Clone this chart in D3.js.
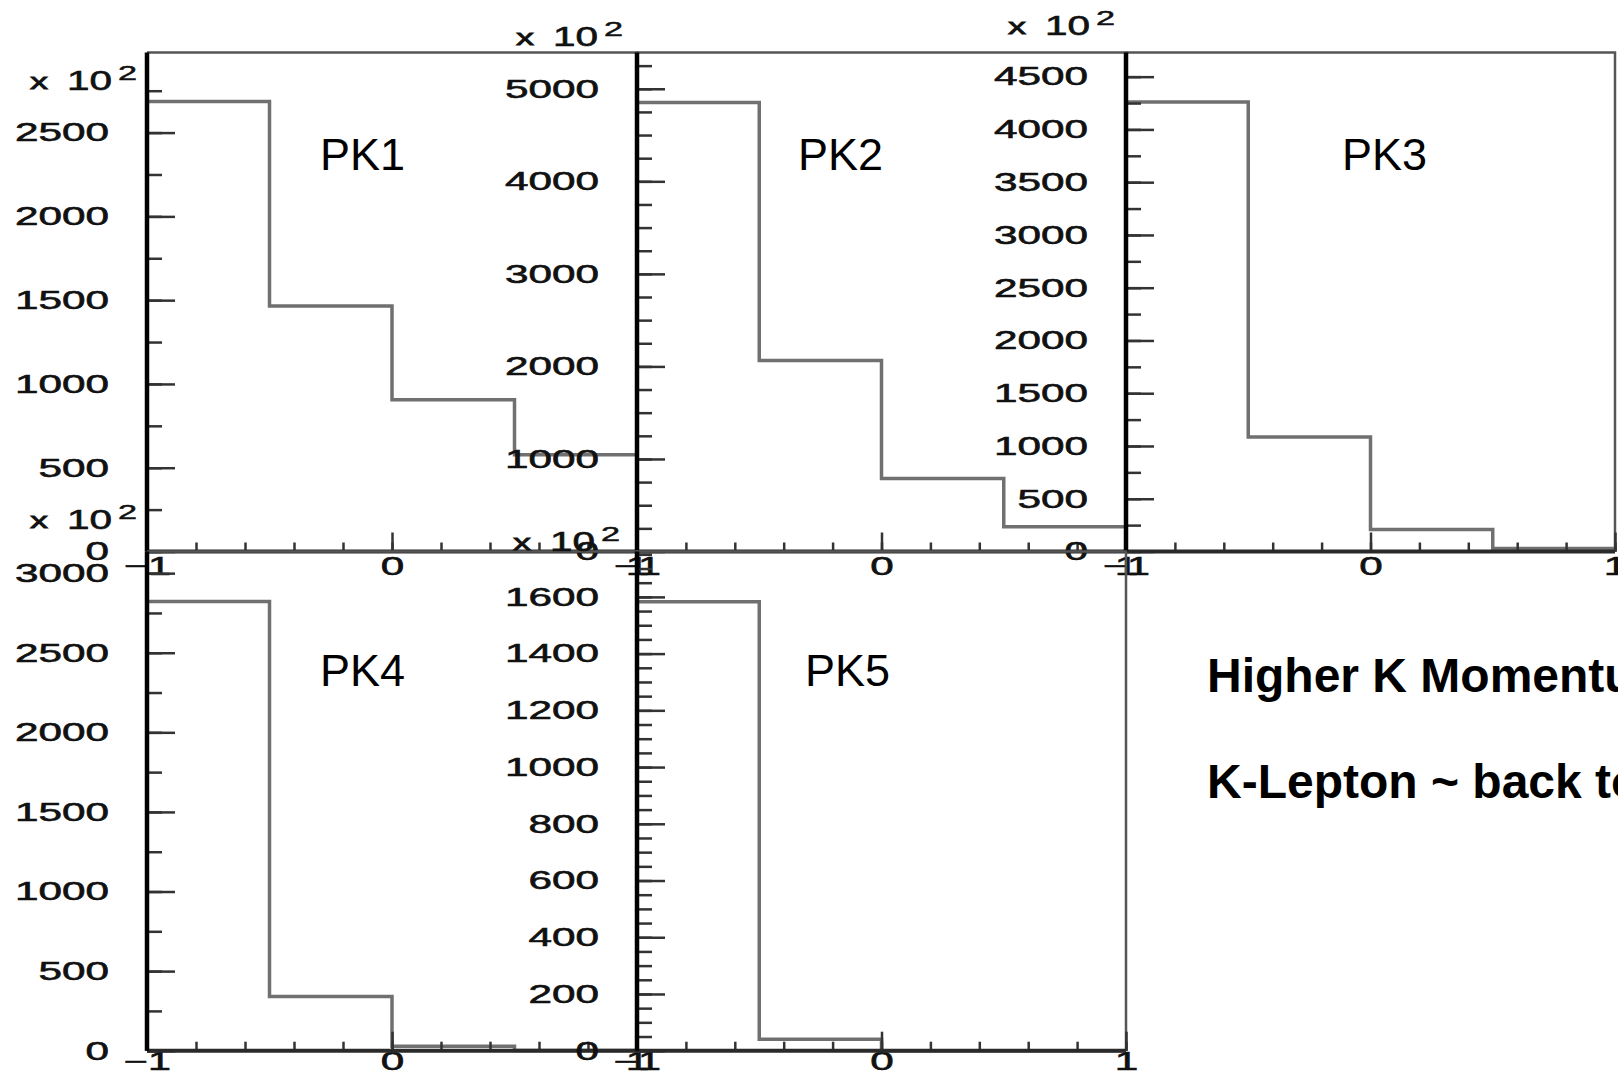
<!DOCTYPE html>
<html>
<head>
<meta charset="utf-8">
<script src="https://cdn.jsdelivr.net/npm/d3@7"></script>
<style>
  body { margin: 0; background: #fff; }
  svg { display: block; }
</style>
</head>
<body>
<svg id="chart" width="1618" height="1077"></svg>
<script>
// histogram data (counts in units of 10^2)
const binEdges = [-1, -0.5, 0, 0.5, 1];
const panelNames = ["PK1", "PK2", "PK3", "PK4", "PK5"];
const pk1Counts = [2685, 1465, 905, 578];
const pk2Counts = [4852, 2064, 788, 268];
const pk3Counts = [4261, 1086, 209, 28];
const pk4Counts = [2822, 341, 28, 2];
const pk5Counts = [1583, 40, 0, 0];
const yRangeMax = [2978, 5392, 4729, 3136, 1760];
const yMajorStep = [500, 1000, 500, 500, 200];
const yMinorStep = [250, 250, 250, 250, 50];
const xMajorTicks = [-1, 0, 1];
const xTickLabels = ["\u22121", "0", "1"];
const xMinorStep = 0.2;
const scaleLabel = ["x", "10", "2"];
const notes = ["Higher K Momentum", "K-Lepton ~ back to back"];

const allCounts = [pk1Counts, pk2Counts, pk3Counts, pk4Counts, pk5Counts];

// pad layout (ROOT-like 3x2 canvas with zero gaps)
const colEdges = [147, 637, 1126, 1615];
const rowEdges = [52.5, 551.5, 1050.7];
const padPos = [[0, 0], [1, 0], [2, 0], [0, 1], [1, 1]];
const nameOffset = [[173, 170], [161, 170], [216, 170], [173, 686], [168, 686]];
const expPos = [[137, 90], [623, 46], [1115, 35], [137, 529], [620, 551]];
const xLabelPad = [5, 2];
const xLabelSize = [26, 25];

const svg = d3.select("#chart");
svg.append("rect").attr("width", 1618).attr("height", 1077).attr("fill", "#fff");

const font = "'Liberation Sans', Arial, Helvetica, sans-serif";
const charW = 23.5; // the tick labels are stretched wide

function stretchLabels(sel, size) {
  sel.selectAll("text")
    .style("font-family", font)
    .style("font-size", size + "px")
    .attr("fill", "#111")
    .attr("stroke", "#111")
    .attr("stroke-width", 0.6)
    .attr("lengthAdjust", "spacingAndGlyphs")
    .attr("textLength", function () { return this.textContent.length * charW; });
}

function range(a, b, step) {
  const out = [];
  const n = Math.round((b - a) / step);
  for (let i = 0; i <= n; i++) out.push(+(a + i * step).toFixed(6));
  return out;
}

panelNames.forEach((name, i) => {
  const [c, r] = padPos[i];
  const x0 = colEdges[c], x1 = colEdges[c + 1];
  const yTop = rowEdges[r], yBot = rowEdges[r + 1];
  const counts = allCounts[i];

  const x = d3.scaleLinear().domain([-1, 1]).range([x0, x1]);
  const y = d3.scaleLinear().domain([0, yRangeMax[i]]).range([yBot, yTop]);

  const g = svg.append("g").attr("class", "pad");

  // frame (top + right)
  g.append("path")
    .attr("d", `M${x0},${yTop}H${x1}V${yBot}`)
    .attr("fill", "none")
    .attr("stroke", "#555")
    .attr("stroke-width", 2.5);

  // histogram outline
  const pts = [[binEdges[0], 0]];
  counts.forEach((v, k) => {
    pts.push([binEdges[k], v]);
    pts.push([binEdges[k + 1], v]);
  });
  pts.push([binEdges[binEdges.length - 1], 0]);
  g.append("path")
    .datum(pts)
    .attr("d", d3.line().x(d => x(d[0])).y(d => y(d[1])))
    .attr("fill", "none")
    .attr("stroke", "#707070")
    .attr("stroke-width", 3.5);

  // y ticks, drawn inside the frame
  const yMajor = range(0, Math.floor(yRangeMax[i] / yMajorStep[i]) * yMajorStep[i], yMajorStep[i]);
  const yMinor = range(0, Math.floor(yRangeMax[i] / yMinorStep[i]) * yMinorStep[i], yMinorStep[i]);
  const yt = g.append("g").attr("transform", `translate(${x0},0)`);
  yt.append("g").call(d3.axisRight(y).tickValues(yMinor).tickSize(15).tickFormat(""));
  yt.append("g").call(d3.axisRight(y).tickValues(yMajor).tickSize(28).tickFormat(""));
  yt.selectAll(".domain").remove();
  yt.selectAll("line").attr("stroke", "#333").attr("stroke-width", 2.5);

  // y labels
  const yl = g.append("g").attr("transform", `translate(${x0},0)`)
    .call(d3.axisLeft(y).tickValues(yMajor).tickSize(0).tickPadding(38).tickFormat(d3.format("d")));
  yl.select(".domain").remove();
  stretchLabels(yl, 26);

  // x ticks, pointing up from the axis
  const xt = g.append("g").attr("transform", `translate(0,${yBot})`);
  xt.append("g").call(d3.axisTop(x).tickValues(range(-1, 1, xMinorStep)).tickSize(9).tickFormat(""));
  xt.append("g").call(d3.axisTop(x).tickValues(xMajorTicks).tickSize(19).tickFormat(""));
  xt.selectAll(".domain").remove();
  xt.selectAll("line").attr("stroke", "#333").attr("stroke-width", 2.5);

  // x labels
  const xl = g.append("g").attr("transform", `translate(0,${yBot})`)
    .call(d3.axisBottom(x).tickValues(xMajorTicks).tickSize(0).tickPadding(xLabelPad[r])
      .tickFormat((d, k) => xTickLabels[k]));
  xl.select(".domain").remove();
  stretchLabels(xl, xLabelSize[r]);

  // axis lines
  g.append("line")
    .attr("x1", x0).attr("x2", x1).attr("y1", yBot).attr("y2", yBot)
    .attr("stroke", "#2a2a2a").attr("stroke-width", 4);
  g.append("line")
    .attr("x1", x0).attr("x2", x0).attr("y1", yTop).attr("y2", yBot)
    .attr("stroke", "#000").attr("stroke-width", 4.5);

  // "x 10^2" exponent label
  const [R, B] = expPos[i];
  const e = g.append("g").style("font-family", font).attr("fill", "#111");
  e.append("text").attr("x", R - 107).attr("y", B - 1)
    .style("font-size", "22px").attr("stroke", "#111").attr("stroke-width", 0.8)
    .attr("textLength", 18).attr("lengthAdjust", "spacingAndGlyphs")
    .text(scaleLabel[0]);
  e.append("text").attr("x", R - 70).attr("y", B)
    .style("font-size", "27px").attr("stroke", "#111").attr("stroke-width", 0.6)
    .attr("textLength", 45).attr("lengthAdjust", "spacingAndGlyphs")
    .text(scaleLabel[1]);
  e.append("text").attr("x", R - 19).attr("y", B - 10)
    .style("font-size", "20px").attr("stroke", "#111").attr("stroke-width", 0.5)
    .attr("textLength", 19).attr("lengthAdjust", "spacingAndGlyphs")
    .text(scaleLabel[2]);

  // pad name
  g.append("text")
    .attr("x", x0 + nameOffset[i][0])
    .attr("y", nameOffset[i][1])
    .style("font-family", font)
    .style("font-size", "45px")
    .attr("fill", "#000")
    .text(name);
});

// side notes
svg.selectAll(".note")
  .data(notes)
  .join("text")
  .attr("class", "note")
  .attr("x", 1207)
  .attr("y", (d, k) => 692 + k * 106)
  .style("font-family", font)
  .style("font-size", "48px")
  .style("font-weight", "bold")
  .attr("fill", "#000")
  .text(d => d);
</script>
</body>
</html>
